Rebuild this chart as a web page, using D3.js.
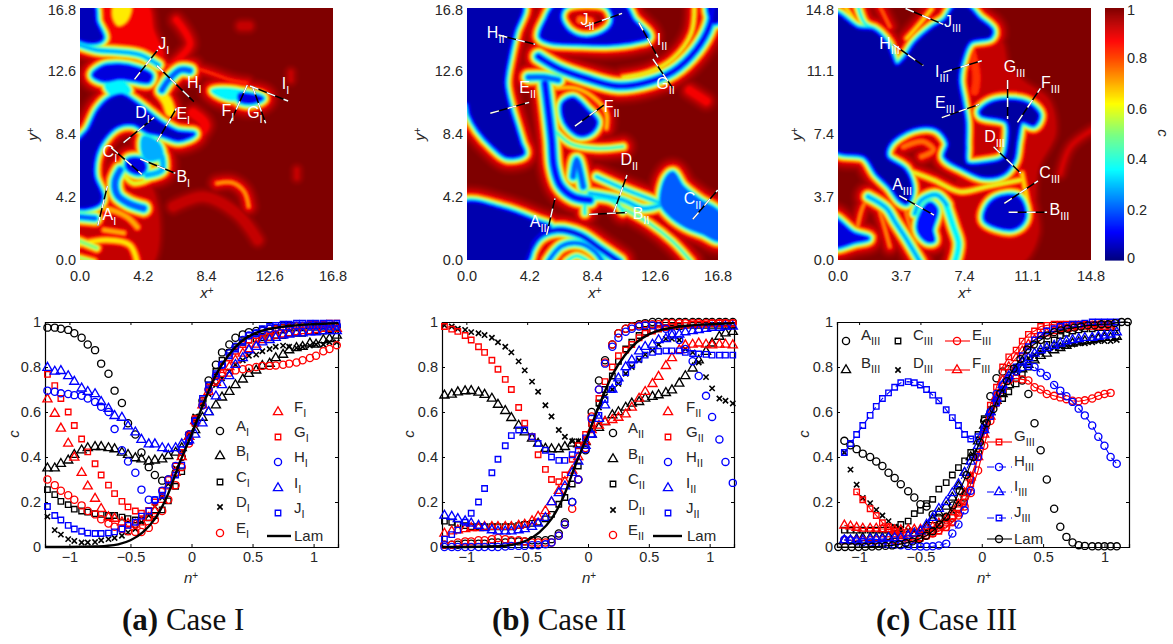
<!DOCTYPE html>
<html>
<head>
<meta charset="utf-8">
<script src="https://cdn.jsdelivr.net/npm/d3@7"></script>
<style>
body { margin: 0; background: #fff; }
svg { display: block; }
text { font-family: "Liberation Sans", Arial, sans-serif; fill: #262626; }
.cap { font-family: "Liberation Serif", serif; font-size: 31px; fill: #111; }
.domain, .tick line { stroke: #000; }
</style>
</head>
<body>
<script>
// ---- profiles, n+ positions ----
var nAB = [-1.18,-1.12,-1.07,-1.01,-.96,-.90,-.85,-.79,-.74,-.68,-.63,-.57,-.52,-.46,-.41,-.35,-.30,-.24,-.19,-.13,-.08,-.02,.03,.09,.14,.20,.25,.31,.36,.42,.47,.53,.58,.64,.69,.75,.80,.86,.91,.97,1.02,1.08,1.13,1.19];
var nC = [-1.12,-1.07,-1.02,-.97,-.91,-.86,-.81,-.76,-.71,-.66,-.60,-.55,-.50,-.45,-.40,-.35,-.29,-.24,-.19,-.14,-.09,-.03,.02,.07,.12,.17,.22,.28,.33,.38,.43,.48,.53,.59,.64,.69,.74,.79,.84,.90,.95,1.00,1.05,1.10];
var nLam = [-1.2,-1,-.8,-.7,-.6,-.5,-.4,-.3,-.2,-.1,0,.1,.2,.3,.4,.5,.6,.7,.8,.9,1,1.2];
var cLam = [0,0,.002,.005,.012,.03,.065,.125,.225,.37,.50,.64,.765,.85,.91,.945,.965,.975,.982,.987,.99,.995];
var nLamC = [-1.17,-1.115,-1.06,-1.005,-.95,-.895,-.84,-.785,-.73,-.675,-.62,-.565,-.51,-.455,-.40,-.345,-.29,-.235,-.18,-.125,-.07,-.015,.04,.095,.15,.205,.26,.315,.37,.425,.48,.535,.59,.645,.70,.755,.81,.865,.92,.975,1.03,1.085,1.14,1.19];
var cLamC = [0,0,0,0,.001,.002,.003,.005,.007,.012,.018,.025,.035,.05,.07,.10,.135,.185,.25,.32,.40,.465,.55,.613,.683,.737,.793,.835,.878,.90,.92,.94,.955,.963,.97,.975,.98,.985,.985,.99,.99,.995,1,1];

// Case I
var aI = [.975,.975,.97,.965,.95,.93,.90,.875,.815,.77,.695,.64,.55,.50,.42,.355,.32,.295,.30,.33,.40,.50,.57,.65,.74,.81,.865,.90,.93,.945,.955,.96,.965,.97,.97,.975,.975,.98,.98,.98,.98,.98,.98,.98];
var bI = [.35,.35,.37,.385,.41,.43,.44,.445,.445,.44,.435,.42,.41,.395,.39,.38,.385,.39,.405,.42,.44,.49,.52,.575,.60,.63,.665,.69,.72,.745,.77,.785,.805,.815,.84,.855,.875,.885,.89,.905,.90,.92,.925,.94];
var cI = [.255,.233,.203,.188,.168,.16,.155,.148,.145,.14,.14,.133,.126,.12,.12,.13,.14,.165,.205,.27,.335,.47,.55,.64,.72,.78,.83,.865,.89,.91,.92,.925,.93,.93,.94,.94,.95,.95,.95,.96,.96,.96,.965,.97];
var dI = [.135,.075,.055,.035,.027,.02,.02,.022,.03,.035,.04,.05,.065,.08,.11,.14,.18,.22,.28,.35,.42,.50,.58,.64,.68,.72,.75,.78,.81,.83,.85,.855,.87,.88,.89,.895,.89,.885,.89,.895,.90,.90,.91,.91];
var eI = [.30,.275,.25,.23,.21,.185,.16,.145,.123,.104,.09,.08,.07,.067,.067,.085,.12,.16,.21,.275,.355,.46,.55,.63,.70,.74,.76,.775,.785,.79,.795,.80,.805,.805,.807,.81,.815,.82,.83,.84,.85,.87,.88,.897];
var fI = [.657,.593,.527,.46,.398,.33,.27,.215,.17,.133,.126,.11,.104,.10,.11,.13,.16,.21,.27,.33,.40,.49,.56,.63,.69,.73,.77,.80,.83,.86,.88,.90,.92,.93,.94,.945,.95,.955,.96,.96,.965,.97,.97,.97];
var gI = [.767,.717,.66,.60,.54,.48,.423,.37,.32,.275,.237,.203,.178,.16,.15,.163,.20,.25,.30,.36,.42,.50,.57,.65,.71,.76,.80,.84,.87,.90,.92,.94,.95,.96,.97,.975,.98,.985,.985,.99,.99,.99,.995,.995];
var hI = [.695,.69,.683,.68,.675,.672,.66,.645,.623,.60,.524,.43,.38,.33,.255,.21,.208,.25,.30,.36,.43,.50,.56,.63,.70,.76,.81,.86,.89,.92,.94,.95,.96,.97,.975,.98,.98,.985,.985,.985,.985,.985,.985,.985];
var iI = [.797,.78,.783,.76,.735,.705,.69,.68,.645,.615,.583,.575,.537,.51,.477,.457,.457,.44,.436,.44,.457,.475,.50,.55,.60,.67,.72,.76,.81,.84,.875,.89,.91,.92,.93,.94,.945,.95,.95,.955,.955,.96,.96,.96];
var jI = [.18,.14,.12,.096,.08,.07,.062,.06,.06,.062,.067,.08,.096,.11,.137,.16,.21,.23,.275,.32,.364,.47,.56,.66,.72,.77,.81,.85,.88,.91,.94,.95,.97,.98,.985,.99,.99,.995,.995,.995,.995,.995,.995,.995];

// Case II
var aII = [.01,.01,.01,.015,.015,.015,.015,.02,.02,.02,.025,.025,.025,.03,.03,.03,.035,.06,.11,.20,.30,.43,.60,.74,.83,.90,.95,.97,.98,.99,.995,1,1,1,1,1,1,1,1,1,1,1,1,1];
var bII = [.674,.678,.688,.693,.694,.687,.677,.66,.633,.605,.574,.54,.51,.482,.46,.437,.435,.435,.445,.46,.457,.467,.50,.53,.556,.586,.60,.62,.638,.645,.66,.668,.675,.685,.697,.727,.76,.794,.83,.868,.905,.935,.95,.957];
var cII = [.115,.11,.10,.095,.09,.09,.09,.09,.09,.09,.09,.095,.10,.105,.11,.125,.145,.19,.22,.28,.36,.47,.55,.64,.70,.76,.825,.88,.91,.94,.955,.965,.97,.975,.98,.98,.985,.985,.985,.985,.985,.985,.985,.985];
var dII = [.985,.98,.97,.965,.955,.95,.942,.93,.91,.89,.865,.825,.785,.735,.69,.63,.58,.52,.49,.47,.47,.48,.52,.62,.67,.70,.725,.77,.80,.83,.855,.875,.90,.925,.925,.92,.88,.865,.82,.755,.705,.66,.65,.638];
var eII = [.01,.01,.02,.025,.025,.03,.03,.035,.04,.035,.03,.03,.025,.02,.02,.02,.02,.05,.10,.17,.30,.44,.58,.70,.82,.90,.95,.97,.98,.985,.99,.99,.99,.995,.995,.995,.995,.995,.995,.995,.995,.995,.995,.995];
var fII = [.06,.07,.075,.08,.085,.085,.09,.09,.09,.09,.09,.095,.10,.115,.135,.16,.20,.25,.29,.34,.40,.47,.52,.54,.556,.565,.575,.59,.62,.66,.69,.725,.757,.805,.84,.875,.897,.90,.905,.90,.897,.90,.90,.897];
var gII = [.98,.968,.958,.94,.92,.89,.865,.83,.79,.745,.70,.62,.55,.49,.41,.345,.30,.29,.32,.39,.45,.50,.55,.66,.735,.80,.85,.875,.90,.93,.95,.96,.97,.975,.98,.985,.985,.99,.99,.99,.995,.995,.995,.995];
var hII = [0,0,0,0,0,0,0,0,0,.002,.005,.005,.005,.008,.008,.012,.02,.05,.10,.20,.30,.435,.57,.70,.815,.89,.93,.957,.97,.98,.985,.985,.98,.97,.95,.92,.88,.826,.76,.672,.578,.478,.378,.285];
var iII = [.14,.135,.125,.115,.105,.095,.085,.075,.07,.07,.07,.075,.08,.09,.105,.13,.20,.24,.27,.33,.38,.45,.50,.57,.63,.70,.75,.80,.83,.87,.89,.90,.92,.925,.94,.945,.955,.96,.965,.97,.975,.975,.98,.98];
var jII = [.035,.055,.075,.11,.15,.20,.26,.33,.39,.45,.495,.52,.52,.49,.46,.43,.40,.385,.385,.41,.43,.485,.50,.585,.655,.70,.735,.775,.81,.835,.853,.865,.87,.872,.872,.872,.865,.86,.858,.856,.853,.853,.853,.853];

// Case III
var aIII = [.472,.452,.435,.415,.40,.38,.36,.33,.307,.279,.248,.22,.19,.18,.145,.13,.13,.13,.17,.22,.30,.42,.56,.67,.75,.78,.79,.78,.74,.68,.55,.43,.30,.17,.09,.045,.02,.008,.005,.003,.003,.003,.003,.003];
var bIII = [.03,.03,.035,.04,.04,.04,.04,.045,.05,.05,.05,.06,.07,.09,.12,.15,.18,.22,.27,.33,.40,.47,.54,.60,.65,.68,.72,.76,.79,.81,.83,.85,.86,.875,.885,.895,.905,.91,.915,.92,.925,.93,.93,.935];
var cIII = [.075,.075,.075,.075,.075,.075,.075,.075,.085,.10,.115,.148,.163,.193,.212,.257,.286,.32,.353,.383,.42,.50,.57,.61,.65,.66,.69,.725,.77,.80,.84,.87,.90,.92,.94,.95,.96,.965,.97,.97,.975,.975,.975,.975];
var dIII = [.42,.344,.277,.218,.195,.165,.14,.115,.09,.08,.075,.07,.07,.07,.08,.10,.12,.16,.20,.25,.32,.42,.52,.59,.64,.69,.74,.79,.82,.84,.855,.865,.875,.885,.89,.895,.90,.905,.905,.91,.915,.915,.915,.92];
var eIII = [.03,.03,.03,.03,.03,.03,.03,.03,.03,.03,.035,.035,.04,.05,.06,.075,.09,.11,.14,.18,.24,.34,.45,.56,.64,.70,.74,.75,.745,.74,.71,.70,.68,.672,.665,.657,.65,.648,.652,.66,.672,.68,.685,null];
var fIII = [.096,.092,.086,.082,.082,.082,.08,.08,.075,.075,.077,.077,.077,.08,.09,.105,.125,.155,.19,.24,.31,.40,.50,.58,.67,.74,.80,.84,.87,.90,.92,.94,.95,.96,.97,.97,.975,.98,.98,.98,.98,.98,.98,null];
var gIII = [null,null,.245,.21,.17,.14,.108,.09,.07,.052,.04,.037,.04,.05,.06,.07,.085,.11,.15,.20,.28,.40,.52,.63,.71,.80,.845,.875,.915,.945,.96,.98,.985,.99,.99,.99,.99,.99,.99,.99,.99,.99,.99,null];
var hIII = [.033,.03,.025,.022,.02,.018,.015,.012,.01,.008,.005,.003,.002,.002,.003,.007,.015,.06,.10,.163,.25,.40,.52,.60,.68,.72,.75,.78,.80,.805,.80,.775,.76,.72,.695,.67,.645,.615,.585,.54,.49,.45,.40,.37];
var iIII = [.03,.03,.03,.03,.035,.035,.035,.04,.04,.04,.05,.06,.07,.10,.13,.17,.20,.24,.28,.33,.38,.45,.52,.60,.66,.72,.76,.79,.82,.84,.86,.875,.885,.895,.905,.915,.92,.925,.93,.93,.935,.94,.945,.955];
var jIII = [.42,.46,.50,.54,.585,.625,.66,.685,.71,.73,.735,.73,.72,.70,.675,.65,.61,.575,.54,.50,.48,.49,.53,.58,.64,.70,.75,.80,.85,.89,.92,.94,.96,.97,.98,.985,.99,.99,.995,1,1,1,1,1];

// ---- sampling lines (x+, y+ end points), one per letter A..J ----
var cutsI = [[1.18,2.29,1.82,4.93],[4,6.73,6.33,5.78],[2.07,7.49,4.11,5.71],[2.89,7.82,4.93,9.51],[5.11,7.89,6.4,10.11],[11.11,11.67,9.96,9.11],[11.44,11.6,12.33,9.11],[5.11,12.96,7.56,10.56],[11.29,11.6,13.82,10.6],[3.62,12.04,5.16,14]];
var cutsII = [[5.33,1.67,5.89,4.11],[8.16,3.04,10.71,3.16],[15.11,2.71,16.78,4.67],[9.82,3.16,10.71,5.67],[1.56,9.78,4.16,10.51],[7.22,8.93,9.16,10.33],[12.44,13.4,13.78,11.44],[2.11,15,4.56,14.38],[11.49,15.84,12.78,13.51],[7.89,15.56,10.38,16.44]];
var cutsIII = [[3.58,3.78,5.62,2.64],[9.98,2.8,12.23,2.8],[9.73,3.33,11.7,4.64],[9.1,6.65,10.7,5.09],[6.07,8.36,8.26,9.14],[10.5,8.08,11.84,10.08],[9.92,10.57,9.92,8.28],[3.23,12.66,4.99,11.41],[6.16,11.02,8.41,11.7],[3.95,14.77,6.16,13.84]];
var tagsI = [[1.5,2.67],[6.4,5.2],[1.5,6.85],[3.67,9.44],[6.4,9.4],[9.4,9.6],[11.1,9.44],[7.1,11.5],[13.4,11.4],[5.2,14.05]];
var tagsII = [[4.2,2.2],[11.1,2.73],[14.5,3.73],[10.27,6.33],[3.5,11.15],[9.15,9.9],[12.67,11.4],[1.33,14.8],[12.7,14.33],[7.6,15.67]];
var tagsIII = [[3.17,4.11],[12.37,2.64],[11.78,4.83],[8.55,6.95],[5.68,8.94],[11.88,10.12],[9.69,11.02],[2.41,12.39],[5.68,10.72],[6.2,13.66]];

// ---- scalar field outlines in x+, y+ : low-c regions (closed) ----
var regionsI = [
  {c:.05, rings:[[-.3,7.56,.56,8.67,1.22,10,2,10.78,2.78,11,3.56,10.56,4.44,9.89,5.44,9.11,6.44,8.56,7.56,8.4,6.56,8,5.44,8.33,4.44,8.56,3.56,9.07,2.49,8.93,1.51,8,1,6.89,.93,5.56,1.44,4.22,1.22,3.73,-.3,3.56]]},
  {c:.08, rings:[[.89,12.33,1.56,12.89,2.67,13,3.78,12.78,4.71,12.33,4.56,11.89,3.56,12,2.67,12.11,1.56,11.96]]},
  {c:.05, rings:[[-.3,17,.89,17,1.07,15.89,1.51,14.78,.89,14.49,-.3,14.89]]},
  {c:.08, rings:[[3.22,6.67,4.11,6.67,4.33,6.11,4,5.78,3.44,5.89,3.11,6.22]]},
  {c:.3, rings:[[8.78,11.29,10,11.38,11,11.1,10.3,10.7,9.33,10.9]]},
  {c:.08, rings:[[10.6,11.05,11.3,11,12.1,10.78,11.33,10.49,10.6,10.65]]},
  {c:.62, rings:[[2.33,17,3.33,17,3.11,16,2.56,15.67,2.22,16.22]]},
  {c:.88, rings:[[1.1,17,4.44,17,4.9,15.3,5.5,13.5,3,14,1.3,14.5]]},
  {c:.9, rings:[[-.2,3.5,4.3,5.3,4.7,-.2,-.2,-.2]]},
  {c:.35, rings:[[1.67,11.67,2.89,11.89,3.33,11.22,2.22,10.89]]},
  {c:.25, rings:[[4.22,8.22,5.22,7.78,5.44,6.89,4.44,6.67,4.11,7.33]]}
];
var filamentsI = [
  {c:.25, t:.15, path:[-.2,14.4,1.1,14,2.4,13.9,4,13.67,5.2,13]},
  {c:.2, t:.3, path:[5.44,11.33,5.89,12,6.67,12.67,7.29,12.62]},
  {c:.6, t:.5, path:[5.3,11.2,5.75,10.6,6,9.9]},
  {c:.25, t:.25, path:[5.44,6.89,5.44,6,4.44,5.67]},
  {c:.2, t:.35, path:[2.67,6,2.33,5.22,2.49,4.33,3.22,3.78,4.22,3.44]},
  {c:.55, t:.1, path:[3,5.56,3.56,5.11,4.89,5.56,5.44,6.67]},
  {c:.2, t:.25, path:[-.2,2.89,1,2.78]},
  {c:.45, t:.15, path:[-.2,1.33,1.1,.8]},
  {c:.8, t:.05, path:[5.56,13,7.1,12.9,8.44,12.55,10,12,11.1,11.8]},
  {c:.85, t:.3, path:[6.4,16,7.3,14.4,6.2,13.1]},
  {c:.68, t:.05, path:[9.1,5.11,10.1,5.16,10.9,4.56,11.2,3.56]},
  {c:.9, t:.4, path:[6.2,3.56,8.2,4.22,10.4,3.11,11.8,1.33]},
  {c:.65, t:.15, path:[-.2,3.4,1.6,3.44,3.1,2.89,3.8,2.2]},
  {c:.6, t:.15, path:[-.2,1,1.8,1.33,3.3,1,3.8,-.2]},
  {c:.65, t:.1, path:[1.6,2,2.9,1.8]},
  {c:.5, t:.1, path:[-.2,.2,.9,-.1]},
  {c:.93, t:.3, path:[14,12.5,14,12]},
  {c:.93, t:.3, path:[14.4,6,14.4,5.5]},
  {c:.93, t:.5, path:[10.7,15.6,11.2,15.6]},
  {c:.88, t:.6, path:[7.5,9.8,8.3,9,7.5,8]}
];

var regionsII = [
  {c:.04, rings:[[-.3,17,3.67,17,3.16,15.22,2.78,13.56,2.51,11.78,2.82,10.22,3.22,8.89,3.56,7.78,3.78,7.11,2.67,6.89,1.78,7.56,.78,8.67,.22,9.67,.04,10.44,-.3,10.6]]},
  {c:.04, rings:[[-.3,3.73,2.44,3.38,4.67,2.56,5.56,2.18,5,1.78,4.44,1.22,3.89,-.2,-.3,-.2]]},
  {c:.15, rings:[[13,3.78,13.33,5.44,13.78,5.82,14.44,4.89,15.56,4,16.9,3.11,16.9,1.33,15.78,1.78,14.67,2.22,13.56,3]]},
  {c:.05, rings:[[6.44,10.44,7.11,10.78,8,10,8.67,9.22,8.33,8.56,7.56,8.33,6.78,8.89,6.44,9.56]]},
  {c:.06, rings:[[6,17,5.33,16,4.93,14.89,5.56,14.56,7.33,14.44,9.56,14.4,11.33,14.62,12.11,14.89,11.11,16,10.44,17],[6.67,17,6.22,16.22,6.78,15.22,8,14.78,9.33,15.22,9.82,16,9.33,17]]},
  {c:.05, rings:[[16.2,17,17,17,17,16,16.5,15.8]]}
];
var filamentsII = [
  {c:.1, t:.2, path:[4.78,13.56,6.11,12.78,8,12.11,10,11.6,11.78,11.78,13.78,12.56,15.33,14,16.22,15.56,16.49,17]},
  {c:.55, t:.03, path:[15.22,17,15,15.11,13.78,13.44,12.22,12.56,10.44,12.18]},
  {c:.15, t:.2, path:[4.11,12.18,5.11,12.18,6.11,12]},
  {c:.12, t:.3, path:[5.22,11.78,5.44,10,5.67,8,5.82,6.22,6.22,5,7.11,4.22,8.22,4]},
  {c:.2, t:.3, path:[7.11,5.56,7.33,6.67,7.78,4.89]},
  {c:.25, t:.15, path:[8.22,4.44,10.44,4,11.78,3.44,13.1,3.7]},
  {c:.3, t:.05, path:[7.89,3.11,8,3.89,9,4.11,10,3.78,10.44,3.22]},
  {c:.35, t:.03, path:[10.44,3.44,12.22,2.44,13.78,1.22,15,-.1]},
  {c:.25, t:.05, path:[8.67,5.56,10.67,4.67,13,3.78]},
  {c:.08, t:.15, path:[3.89,-.1,4.78,1.51,6,2,7.56,1.67,8.89,.78,10.18,-.1]},
  {c:.15, t:.1, path:[5.44,-.1,6.33,.93,7.56,1.11,8.56,.56,9.07,-.1]},
  {c:.3, t:.03, path:[6.67,-.1,7.33,.27,8.11,-.1]},
  {c:.35, t:.03, path:[5.78,8.78,6.89,7.78,8.67,7.44,10.44,7.56]},
  {c:.62, t:.03, path:[5.89,11.44,7.33,11.44,8.67,10.67,9.33,9.78,9.33,8.78]},
  {c:.87, t:.5, path:[14.9,11.3,16,10.6]},
  {c:.75, t:.4, path:[7.6,16,8.2,15.9]}
];

var regionsIII = [
  {c:.03, rings:[[-.3,14.48,1.17,13.6,2.05,13.5,2.84,12.72,3.42,11.45,3.91,11.84,4.5,12.72,5.48,13.6,6.26,14.09,6.85,14.9,7.53,14.9,8.22,14.19,9,13.5,8.9,13.11,7.73,12.82,7.24,11.74,7.05,10.57,7.24,9.39,7.44,8.12,7.44,6.65,7.53,5.68,8.71,5.68,9.69,5.97,9.98,7.05,9.88,8.12,8.41,8.51,8.32,8.71,8.9,9.2,9.88,9.39,11.06,9.2,11.74,8.51,11.45,7.93,10.76,8.12,10.47,7.05,10.27,5.87,9.69,5.09,8.51,4.89,7.34,5.38,6.26,6.07,6.46,6.85,5.77,7.73,4.4,7.73,3.03,6.85,2.84,6.07,3.91,5.28,4.31,4.11,4.01,3.33,3.62,3.52,3.03,4.31,2.25,5.09,1.57,6.07,-.3,6.56]]},
  {c:.06, rings:[[8.71,3.03,9.3,3.62,10.47,3.72,10.86,3.13,10.86,2.35,10.27,1.86,9.3,1.96,8.61,2.35]]},
  {c:.08, rings:[[-.3,2.45,.88,1.57,1.76,1.27,.98,1.08,-.3,.82]]},
  {c:.12, rings:[[4.89,2.74,5.38,3.33,5.77,2.94,5.48,1.76,5.58,1.14,5.19,1.14,4.7,1.76]]},
  {c:.9, rings:[[7.73,12.72,9.39,12.92,9.88,11.35,10.86,10.37,12.23,9.39,12.62,7.44,11.64,5.48,11.45,3.52,11.64,1.57,10.67,-.1,6.56,-.1,7.14,5.48]]}
];
var filamentsIII = [
  {c:.25, t:.15, path:[4.5,2.74,4.89,3.52,5.77,3.82,6.36,3.23]},
  {c:.25, t:.15, path:[1.76,3.72,2.84,3.03,3.33,2.25,3.91,1.37,4.79,-.1]},
  {c:.3, t:.2, path:[6.36,3.13,6.75,1.96,7.05,.98,6.85,-.1]},
  {c:.55, t:.03, path:[-.3,.65,2.05,1.37]},
  {c:.7, t:.05, path:[1.08,1.57,1.57,3.33,2.15,3.62,2.54,2.54,3.03,.78]},
  {c:.7, t:.05, path:[3.91,3.13,4.21,1.96,4.6,.98]},
  {c:.62, t:.05, path:[4.01,13.01,4.79,13.89,5.48,14.77]},
  {c:.75, t:.05, path:[2.45,14.9,3.03,13.7]},
  {c:.35, t:.08, path:[1.17,14.9,1.57,13.9,2.15,13.6]},
  {c:.6, t:.05, path:[.39,14.9,.98,14.09]},
  {c:.72, t:.15, path:[3.82,6.65,4.99,6.95,5.58,6.46,4.89,6.07]},
  {c:.88, t:.05, path:[14.87,7.63,13.6,6.65,13.01,5.09]},
  {c:.82, t:.4, path:[7.8,12.3,8.1,10.8,8,9.9]},
  {c:.55, t:.05, path:[4.01,5.28,5.58,4.7,7.14,4.01,8.71,4.31,10.67,4.7]},
  {c:.6, t:.05, path:[10.76,5.09,11.15,3.13]}
];

var letters = ["A","B","C","D","E","F","G","H","I","J"];
var colors = ["#000","#000","#000","#000","#f00","#f00","#f00","#00f","#00f","#00f"];
var markers = ["circle","triangle","square","times","circle","triangle","square","circle","triangle","square"];
var symbolTypes = { circle: d3.symbolCircle, triangle: d3.symbolTriangle, square: d3.symbolSquare, times: d3.symbolTimes };
var symbolSizes = { circle: 40, triangle: 36, square: 30, times: 20 };

var svg = d3.select("body").append("svg").attr("width", 1173).attr("height", 644);
var defs = svg.append("defs");
defs.append("filter").attr("id", "soft")
    .attr("x", "-5%").attr("y", "-5%").attr("width", "110%").attr("height", "110%")
  .append("feGaussianBlur").attr("stdDeviation", 1.1);

// jet-like colour map of the figure
var jet = d3.scaleLinear()
    .domain([0, .11, .36, .5, .62, .87, 1])
    .range(["#00007f", "#0000ff", "#00ffff", "#7fff7f", "#ffff00", "#ff0000", "#7f0000"])
    .clamp(true);

// c falls off with distance (px) from a low-c core
var rampC = [.985,.96,.93,.88,.82,.76,.7,.64,.58,.5,.42,.35,.28,.2,.14,.1];
var rampD = [18,15,12.5,10,8.5,7.5,6.8,6,5.4,4.6,3.8,3,2.2,1.4,.7,0];
var rampDist = d3.scaleLinear().domain(rampC.slice().reverse()).range(rampD.slice().reverse()).clamp(true);

function toPairs(flat) {
    var out = [];
    for (var i = 0; i < flat.length; i += 2) out.push([flat[i], flat[i + 1]]);
    return out;
}

function drawField(box, xMax, regions, filaments, cuts, tags, xTicks, id) {
    var x = d3.scaleLinear().domain([0, xMax]).range([box.left, box.right]);
    var y = d3.scaleLinear().domain([0, xMax]).range([box.bottom, box.top]);
    var closedLine = d3.line().x(d => x(d[0])).y(d => y(d[1])).curve(d3.curveCatmullRomClosed);
    var openLine = d3.line().x(d => x(d[0])).y(d => y(d[1])).curve(d3.curveCatmullRom);
    var pxPerUnit = x(1) - x(0);

    defs.append("clipPath").attr("id", id)
      .append("rect").attr("x", box.left).attr("y", box.top)
      .attr("width", box.right - box.left).attr("height", box.bottom - box.top);

    var g = svg.append("g").attr("clip-path", "url(#" + id + ")").append("g").attr("filter", "url(#soft)");
    g.append("rect").attr("x", box.left - 30).attr("y", box.top - 30)
        .attr("width", box.right - box.left + 60).attr("height", box.bottom - box.top + 60)
        .attr("fill", jet(1));

    var closedShapes = regions.map(r => ({ c: r.c, d: r.rings.map(q => closedLine(toPairs(q))).join("") }));
    var openShapes = filaments.map(f => ({ c: f.c, t: f.t * pxPerUnit, d: openLine(toPairs(f.path)) }));

    // paint from the outer (high c) levels inwards
    rampC.forEach(function(level) {
        var color = jet(level);
        openShapes.filter(s => s.c <= level).forEach(function(s) {
            g.append("path").attr("d", s.d).attr("fill", "none").attr("stroke", color)
                .attr("stroke-linecap", "round").attr("stroke-linejoin", "round")
                .attr("stroke-width", 2 * (rampDist(level) - rampDist(s.c)) + s.t);
        });
        closedShapes.filter(s => s.c <= level).forEach(function(s) {
            g.append("path").attr("d", s.d).attr("fill", color).attr("fill-rule", "evenodd")
                .attr("stroke", color).attr("stroke-linejoin", "round")
                .attr("stroke-width", 2 * (rampDist(level) - rampDist(s.c)));
        });
    });
    // dark cores
    closedShapes.filter(s => s.c <= .12).forEach(function(s) {
        g.append("path").attr("d", s.d).attr("fill", jet(s.c)).attr("fill-rule", "evenodd")
            .attr("stroke", jet(.12)).attr("stroke-width", 2.5).attr("stroke-linejoin", "round");
    });
    openShapes.filter(s => s.c <= .12).forEach(function(s) {
        g.append("path").attr("d", s.d).attr("fill", "none").attr("stroke", jet(s.c)).attr("stroke-width", s.t);
    });

    // sampling lines
    cuts.forEach(function(c) {
        svg.append("line").attr("x1", x(c[0])).attr("y1", y(c[1])).attr("x2", x(c[2])).attr("y2", y(c[3]))
            .attr("stroke", "#000").attr("stroke-width", 1.5);
        svg.append("line").attr("x1", x(c[0])).attr("y1", y(c[1])).attr("x2", x(c[2])).attr("y2", y(c[3]))
            .attr("stroke", "#fff").attr("stroke-width", 1.5).attr("stroke-dasharray", "9 9");
    });
    var roman = id === "f1" ? "I" : id === "f2" ? "II" : "III";
    tags.forEach(function(t, i) {
        var txt = svg.append("text").attr("x", x(t[0])).attr("y", y(t[1])).style("fill", "#fff").style("font-size", "16px");
        txt.append("tspan").text(letters[i]).style("fill", "#fff");
        txt.append("tspan").attr("dy", 5).style("font-size", "11px").style("fill", "#fff").text(roman);
    });

    xTicks.forEach(function(v) {
        svg.append("text").attr("x", x(v)).attr("y", box.bottom + 21).attr("text-anchor", "middle")
            .style("font-size", "14.5px").text(v.toFixed(1));
        svg.append("text").attr("x", box.left - 4).attr("y", y(v) + (v === xMax ? 7 : 5)).attr("text-anchor", "end")
            .style("font-size", "14.5px").text(v.toFixed(1));
    });
}

function supLabel(px, py, base, rotate) {
    var t = svg.append("text").attr("text-anchor", "middle").style("font-size", "15px").style("font-style", "italic");
    if (rotate) t.attr("transform", "translate(" + px + "," + py + ") rotate(-90)");
    else t.attr("x", px).attr("y", py);
    t.append("tspan").text(base);
    t.append("tspan").attr("dy", -4).style("font-size", "10px").style("font-style", "normal").text("+");
}

function drawProfiles(box, xDomain, nPos, series, lamN, lamC, lamMarkers, roman) {
    var x = d3.scaleLinear().domain(xDomain).range([box.left, box.right]);
    var y = d3.scaleLinear().domain([0, 1]).range([box.bottom, box.top]);
    var g = svg.append("g");

    function frame(sel) { sel.selectAll("text").style("font-size", "14.5px"); sel.select(".domain").attr("stroke-width", 1.2); }
    g.append("g").attr("transform", "translate(0," + box.bottom + ")")
        .call(d3.axisBottom(x).tickValues([-1, -.5, 0, .5, 1]).tickFormat(d3.format("~g")).tickSize(-3).tickPadding(5)).call(frame);
    g.append("g").attr("transform", "translate(" + box.left + ",0)")
        .call(d3.axisLeft(y).tickValues([0, .2, .4, .6, .8, 1]).tickFormat(d3.format("~g")).tickSize(-3).tickPadding(4)).call(frame);
    g.append("g").attr("transform", "translate(0," + box.top + ")")
        .call(d3.axisTop(x).tickValues([-1, -.5, 0, .5, 1]).tickFormat("").tickSize(-3)).call(frame);
    g.append("g").attr("transform", "translate(" + box.right + ",0)")
        .call(d3.axisRight(y).tickValues([0, .2, .4, .6, .8, 1]).tickFormat("").tickSize(-3)).call(frame);

    var line = d3.line().defined(d => d[1] != null).x(d => x(d[0])).y(d => y(d[1]));

    series.forEach(function(vals, i) {
        var pts = vals.map((c, k) => [nPos[k], c]);
        if (roman === "III" && i >= 4) {
            g.append("path").attr("d", line(pts)).attr("fill", "none").attr("stroke", colors[i])
                .attr("stroke-width", 1.1).attr("stroke-dasharray", i >= 7 ? "7 5" : null);
        }
        var sym = d3.symbol().type(symbolTypes[markers[i]]).size(symbolSizes[markers[i]]);
        g.selectAll(null).data(pts.filter(d => d[1] != null)).enter().append("path")
            .attr("d", sym)
            .attr("transform", d => "translate(" + x(d[0]) + "," + y(d[1]) + ")")
            .attr("fill", "none").attr("stroke", colors[i]).attr("stroke-width", markers[i] === "times" ? 1.6 : 1.35);
    });

    var lamPts = lamN.map((n, k) => [n, lamC[k]]);
    if (lamMarkers) {
        g.append("path").attr("d", line(lamPts)).attr("fill", "none").attr("stroke", "#000").attr("stroke-width", 1.2);
        g.selectAll(null).data(lamPts).enter().append("circle")
            .attr("cx", d => x(d[0])).attr("cy", d => y(d[1])).attr("r", 3.5)
            .attr("fill", "none").attr("stroke", "#000").attr("stroke-width", 1.35);
    } else {
        g.append("path").attr("d", d3.line().curve(d3.curveMonotoneX).x(d => x(d[0])).y(d => y(d[1]))(lamPts))
            .attr("fill", "none").attr("stroke", "#000").attr("stroke-width", 2.4);
    }
}

function legendEntry(i, mx, my, lx, ly, roman, withLine, lineX0, lineX1) {
    if (withLine) {
        svg.append("line").attr("x1", lineX0).attr("x2", lineX1).attr("y1", my).attr("y2", my)
            .attr("stroke", colors[i]).attr("stroke-width", 1.1).attr("stroke-dasharray", i >= 7 ? "7 5" : null);
    }
    svg.append("path").attr("d", d3.symbol().type(symbolTypes[markers[i]]).size(symbolSizes[markers[i]]))
        .attr("transform", "translate(" + mx + "," + my + ")")
        .attr("fill", "none").attr("stroke", colors[i]).attr("stroke-width", markers[i] === "times" ? 1.6 : 1.35);
    var t = svg.append("text").attr("x", lx).attr("y", ly).style("font-size", "15px");
    t.append("tspan").text(letters[i]);
    t.append("tspan").attr("dy", 5).style("font-size", "11px").text(roman);
}

// --- top row ---
drawField({ left: 80, right: 333, top: 8, bottom: 260 }, 16.8, regionsI, filamentsI, cutsI, tagsI, [0, 4.2, 8.4, 12.6, 16.8], "f1");
drawField({ left: 467, right: 718, top: 8, bottom: 260 }, 16.8, regionsII, filamentsII, cutsII, tagsII, [0, 4.2, 8.4, 12.6, 16.8], "f2");
drawField({ left: 838, right: 1091, top: 8, bottom: 260 }, 14.8, regionsIII, filamentsIII, cutsIII, tagsIII, [0, 3.7, 7.4, 11.1, 14.8], "f3");

// colour bar
var barY = d3.scaleLinear().domain([0, 1]).range([260, 8]);
d3.range(0, 1, 0.004).forEach(function(v) {
    svg.append("rect").attr("x", 1105).attr("width", 19).attr("y", barY(v + 0.004)).attr("height", barY(v) - barY(v + 0.004) + 0.6).attr("fill", jet(v));
});
[0, .2, .4, .6, .8, 1].forEach(function(v) {
    svg.append("text").attr("x", 1127).attr("y", barY(v) + (v === 0 ? 3 : v === 1 ? 7 : 5)).style("font-size", "14.5px").text(d3.format("~g")(v));
});
svg.append("text").attr("transform", "translate(1158,133) rotate(90)").attr("text-anchor", "middle")
    .style("font-size", "15px").style("font-style", "italic").text("c");

supLabel(207, 298, "x");
supLabel(595, 298, "x");
supLabel(965, 298, "x");
supLabel(38, 134, "y", true);
supLabel(425, 134, "y", true);
supLabel(802, 134, "y", true);

// --- bottom row ---
drawProfiles({ left: 45, right: 338, top: 322, bottom: 547 }, [-1.2, 1.2], nAB, [aI, bI, cI, dI, eI, fI, gI, hI, iI, jI], nLam, cLam, false, "I");
drawProfiles({ left: 442, right: 734, top: 322, bottom: 547 }, [-1.2, 1.2], nAB, [aII, bII, cII, dII, eII, fII, gII, hII, iII, jII], nLam, cLam, false, "II");
drawProfiles({ left: 837, right: 1129, top: 322, bottom: 547 }, [-1.18, 1.2], nC, [aIII, bIII, cIII, dIII, eIII, fIII, gIII, hIII, iIII, jIII], nLamC, cLamC, true, "III");

[15, 410, 805].forEach(function(px) {
    svg.append("text").attr("transform", "translate(" + (px + 4) + ",434) rotate(-90)").attr("text-anchor", "middle")
        .style("font-size", "15px").style("font-style", "italic").text("c");
});
supLabel(191, 583, "n");
supLabel(589, 583, "n");
supLabel(984, 583, "n");

// legends
[431, 456, 482, 507, 533].forEach((my, i) => legendEntry(i, 220, my, 236, my, "I"));
[412, 437, 462, 488, 513].forEach((my, i) => legendEntry(i + 5, 278, my, 294, my, "I"));
svg.append("line").attr("x1", 267).attr("x2", 291).attr("y1", 536).attr("y2", 536).attr("stroke", "#000").attr("stroke-width", 2.4);
svg.append("text").attr("x", 294).attr("y", 541).style("font-size", "15px").text("Lam");

[433, 459, 484, 510, 535].forEach((my, i) => legendEntry(i, 613, my, 628, my, "II"));
[412, 437, 462, 488, 513].forEach((my, i) => legendEntry(i + 5, 668, my, 686, my, "II"));
svg.append("line").attr("x1", 653).attr("x2", 682).attr("y1", 536).attr("y2", 536).attr("stroke", "#000").attr("stroke-width", 2.4);
svg.append("text").attr("x", 687).attr("y", 541).style("font-size", "15px").text("Lam");

legendEntry(0, 846, 341, 861, 340, "III");
legendEntry(2, 898, 341, 913, 340, "III");
legendEntry(4, 957, 341, 972, 340, "III", true, 945, 970);
legendEntry(1, 846, 370, 861, 368, "III");
legendEntry(3, 898, 370, 913, 368, "III");
legendEntry(5, 957, 370, 972, 368, "III", true, 945, 970);
legendEntry(6, 999, 442, 1014, 441, "III", true, 987, 1012);
legendEntry(7, 999, 467, 1014, 466, "III", true, 987, 1012);
legendEntry(8, 999, 492, 1014, 491, "III", true, 987, 1012);
legendEntry(9, 999, 518, 1014, 517, "III", true, 987, 1012);
svg.append("line").attr("x1", 987).attr("x2", 1012).attr("y1", 539).attr("y2", 539).attr("stroke", "#000").attr("stroke-width", 1.1);
svg.append("circle").attr("cx", 999).attr("cy", 539).attr("r", 3.5).attr("fill", "none").attr("stroke", "#000").attr("stroke-width", 1.35);
svg.append("text").attr("x", 1014).attr("y", 544).style("font-size", "15px").text("Lam");

// captions
[[122, "(a)", " Case I"], [492, "(b)", " Case II"], [876, "(c)", " Case III"]].forEach(function(c) {
    var t = svg.append("text").attr("class", "cap").attr("x", c[0]).attr("y", 630);
    t.append("tspan").style("font-weight", "bold").text(c[1]);
    t.append("tspan").text(c[2]);
});
</script>
</body>
</html>
